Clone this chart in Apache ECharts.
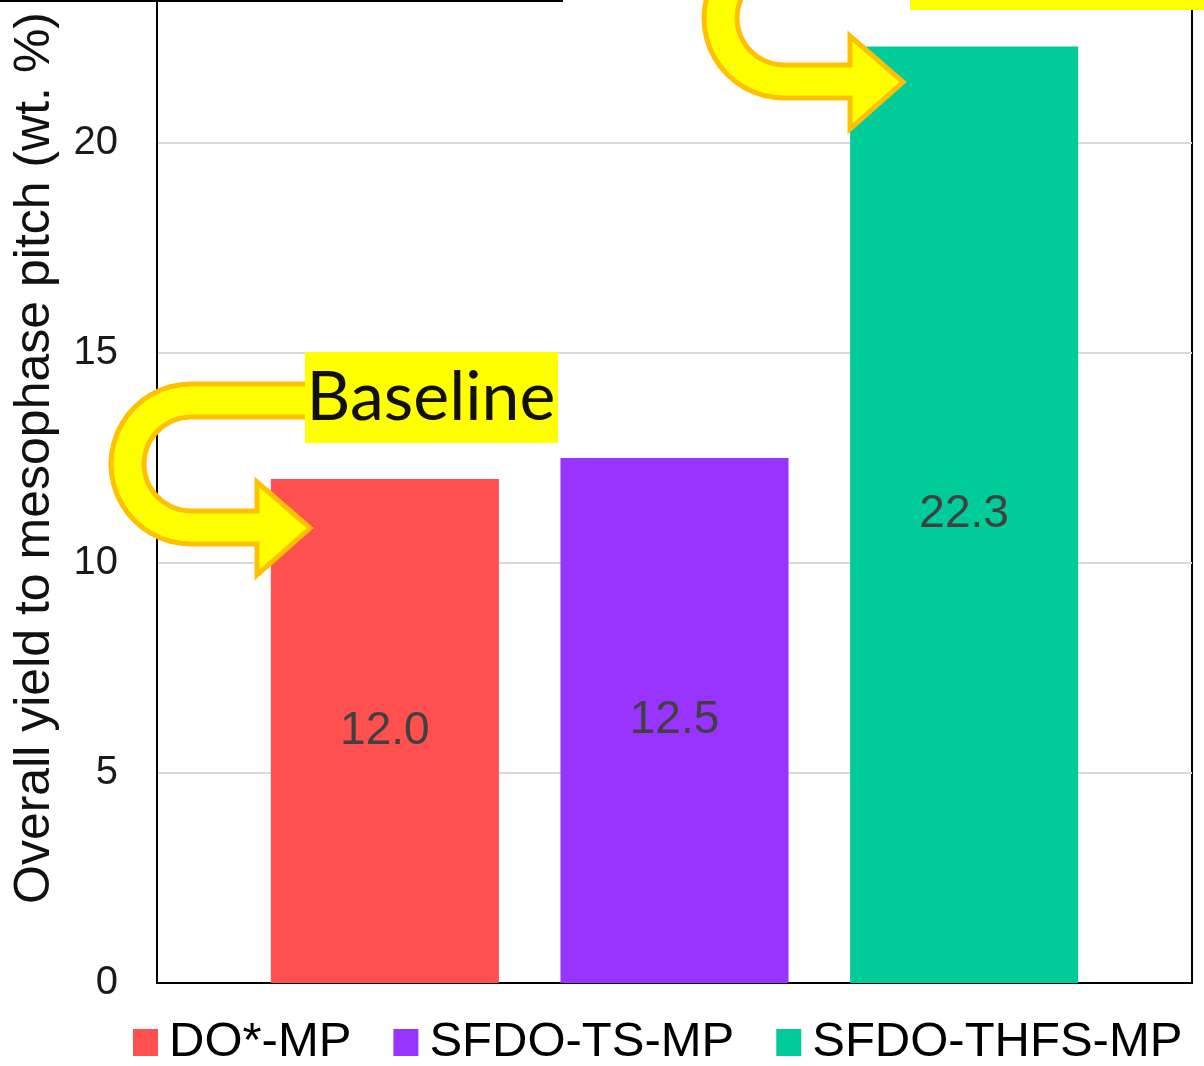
<!DOCTYPE html>
<html><head><meta charset="utf-8">
<script src="https://cdn.jsdelivr.net/npm/echarts@6/dist/echarts.min.js"></script>
<style>html,body{margin:0;padding:0;background:#fff}#c{width:1204px;height:1066px}</style>
</head><body><div id="c"></div>
<script>
const seriesNames = ['DO*-MP', 'SFDO-TS-MP', 'SFDO-THFS-MP'];
const seriesValues = [12.0, 12.5, 22.3];
const seriesColors = ['#ff5050', '#9933ff', '#00cc99'];
const yTicks = [0, 5, 10, 15, 20, 25];
const yTitle = 'Overall yield to mesophase pitch (wt. %)';
const annotationText = 'Baseline';

const FONT = 'Liberation Sans, Arial, sans-serif';

// U-turn arrow outline (relative to the centre of the bend)
function uArrow() {
  const pts = [];
  const R = 80, r = 47;
  pts.push([117, -80], [0, -80]);
  for (let k = 1; k < 24; k++) {
    const a = -Math.PI / 2 - Math.PI * k / 24;
    pts.push([R * Math.cos(a), R * Math.sin(a)]);
  }
  pts.push([0, 80], [66, 80], [66, 111], [119, 64], [66, 18], [66, 47], [0, 47]);
  for (let k = 1; k < 24; k++) {
    const a = Math.PI / 2 + Math.PI * k / 24;
    pts.push([r * Math.cos(a), r * Math.sin(a)]);
  }
  pts.push([0, -47], [117, -47]);
  return pts;
}
const arrowPts = uArrow();

const chart = echarts.init(document.getElementById('c'), null, {renderer: 'canvas'});
chart.setOption({
  backgroundColor: '#fff',
  animation: false,
  grid: {left: 157, right: 12, top: -67, bottom: 83, containLabel: false, outerBoundsMode: 'none',
         show: true, borderColor: '#000', borderWidth: 2, backgroundColor: 'transparent'},
  legend: {
    data: seriesNames, left: 133, top: 1018, padding: 0, itemWidth: 25, itemHeight: 27, itemGap: 42, icon: 'rect',
    textStyle: {fontFamily: FONT, fontSize: 49, color: '#000', padding: [0, 0, 0, 6]}
  },
  xAxis: {type: 'category', data: [''], axisLine: {lineStyle: {color: '#000', width: 2}}, axisTick: {show: false}, axisLabel: {show: false}},
  yAxis: {
    type: 'value', min: yTicks[0], max: yTicks[yTicks.length - 1], interval: yTicks[1] - yTicks[0],
    name: yTitle, nameLocation: 'middle', nameGap: 97, nameRotate: 90,
    nameTextStyle: {fontFamily: FONT, fontSize: 50, color: '#111'},
    axisLine: {show: true, lineStyle: {color: '#000', width: 2}}, axisTick: {show: false},
    axisLabel: {fontFamily: FONT, fontSize: 40, color: '#1a1a1a', margin: 39},
    splitLine: {lineStyle: {color: '#d9d9d9', width: 2}}
  },
  series: seriesNames.map((n, i) => ({
    name: n, type: 'bar', data: [seriesValues[i]],
    itemStyle: {color: seriesColors[i]},
    barCategoryGap: '22%', barGap: '27%',
    label: {show: true, position: 'inside', fontFamily: FONT, fontSize: 46, color: '#404040', formatter: p => p.value.toFixed(1)}
  })),
  graphic: [
    {type: 'rect', shape: {x: 0, y: 0, width: 563, height: 2}, style: {fill: '#000'}, z: 100},
    {type: 'rect', shape: {x: 910, y: 0, width: 294, height: 10}, style: {fill: '#ffff00'}, z: 100},
    {type: 'polygon', x: 191, y: 464, shape: {points: arrowPts}, style: {fill: '#ffff00', stroke: '#ffc000', lineWidth: 5, lineJoin: 'miter'}, z: 100},
    {type: 'polygon', x: 784, y: 18, shape: {points: arrowPts}, style: {fill: '#ffff00', stroke: '#ffc000', lineWidth: 5, lineJoin: 'miter'}, z: 100},
    {type: 'rect', shape: {x: 305, y: 352, width: 253, height: 91}, style: {fill: '#ffff00'}, z: 101},
    {type: 'text', x: 431, y: 398, style: {text: annotationText, font: '68px Lato, sans-serif', fill: '#111', textAlign: 'center', textVerticalAlign: 'middle'}, z: 102}
  ]
});
</script></body></html>
